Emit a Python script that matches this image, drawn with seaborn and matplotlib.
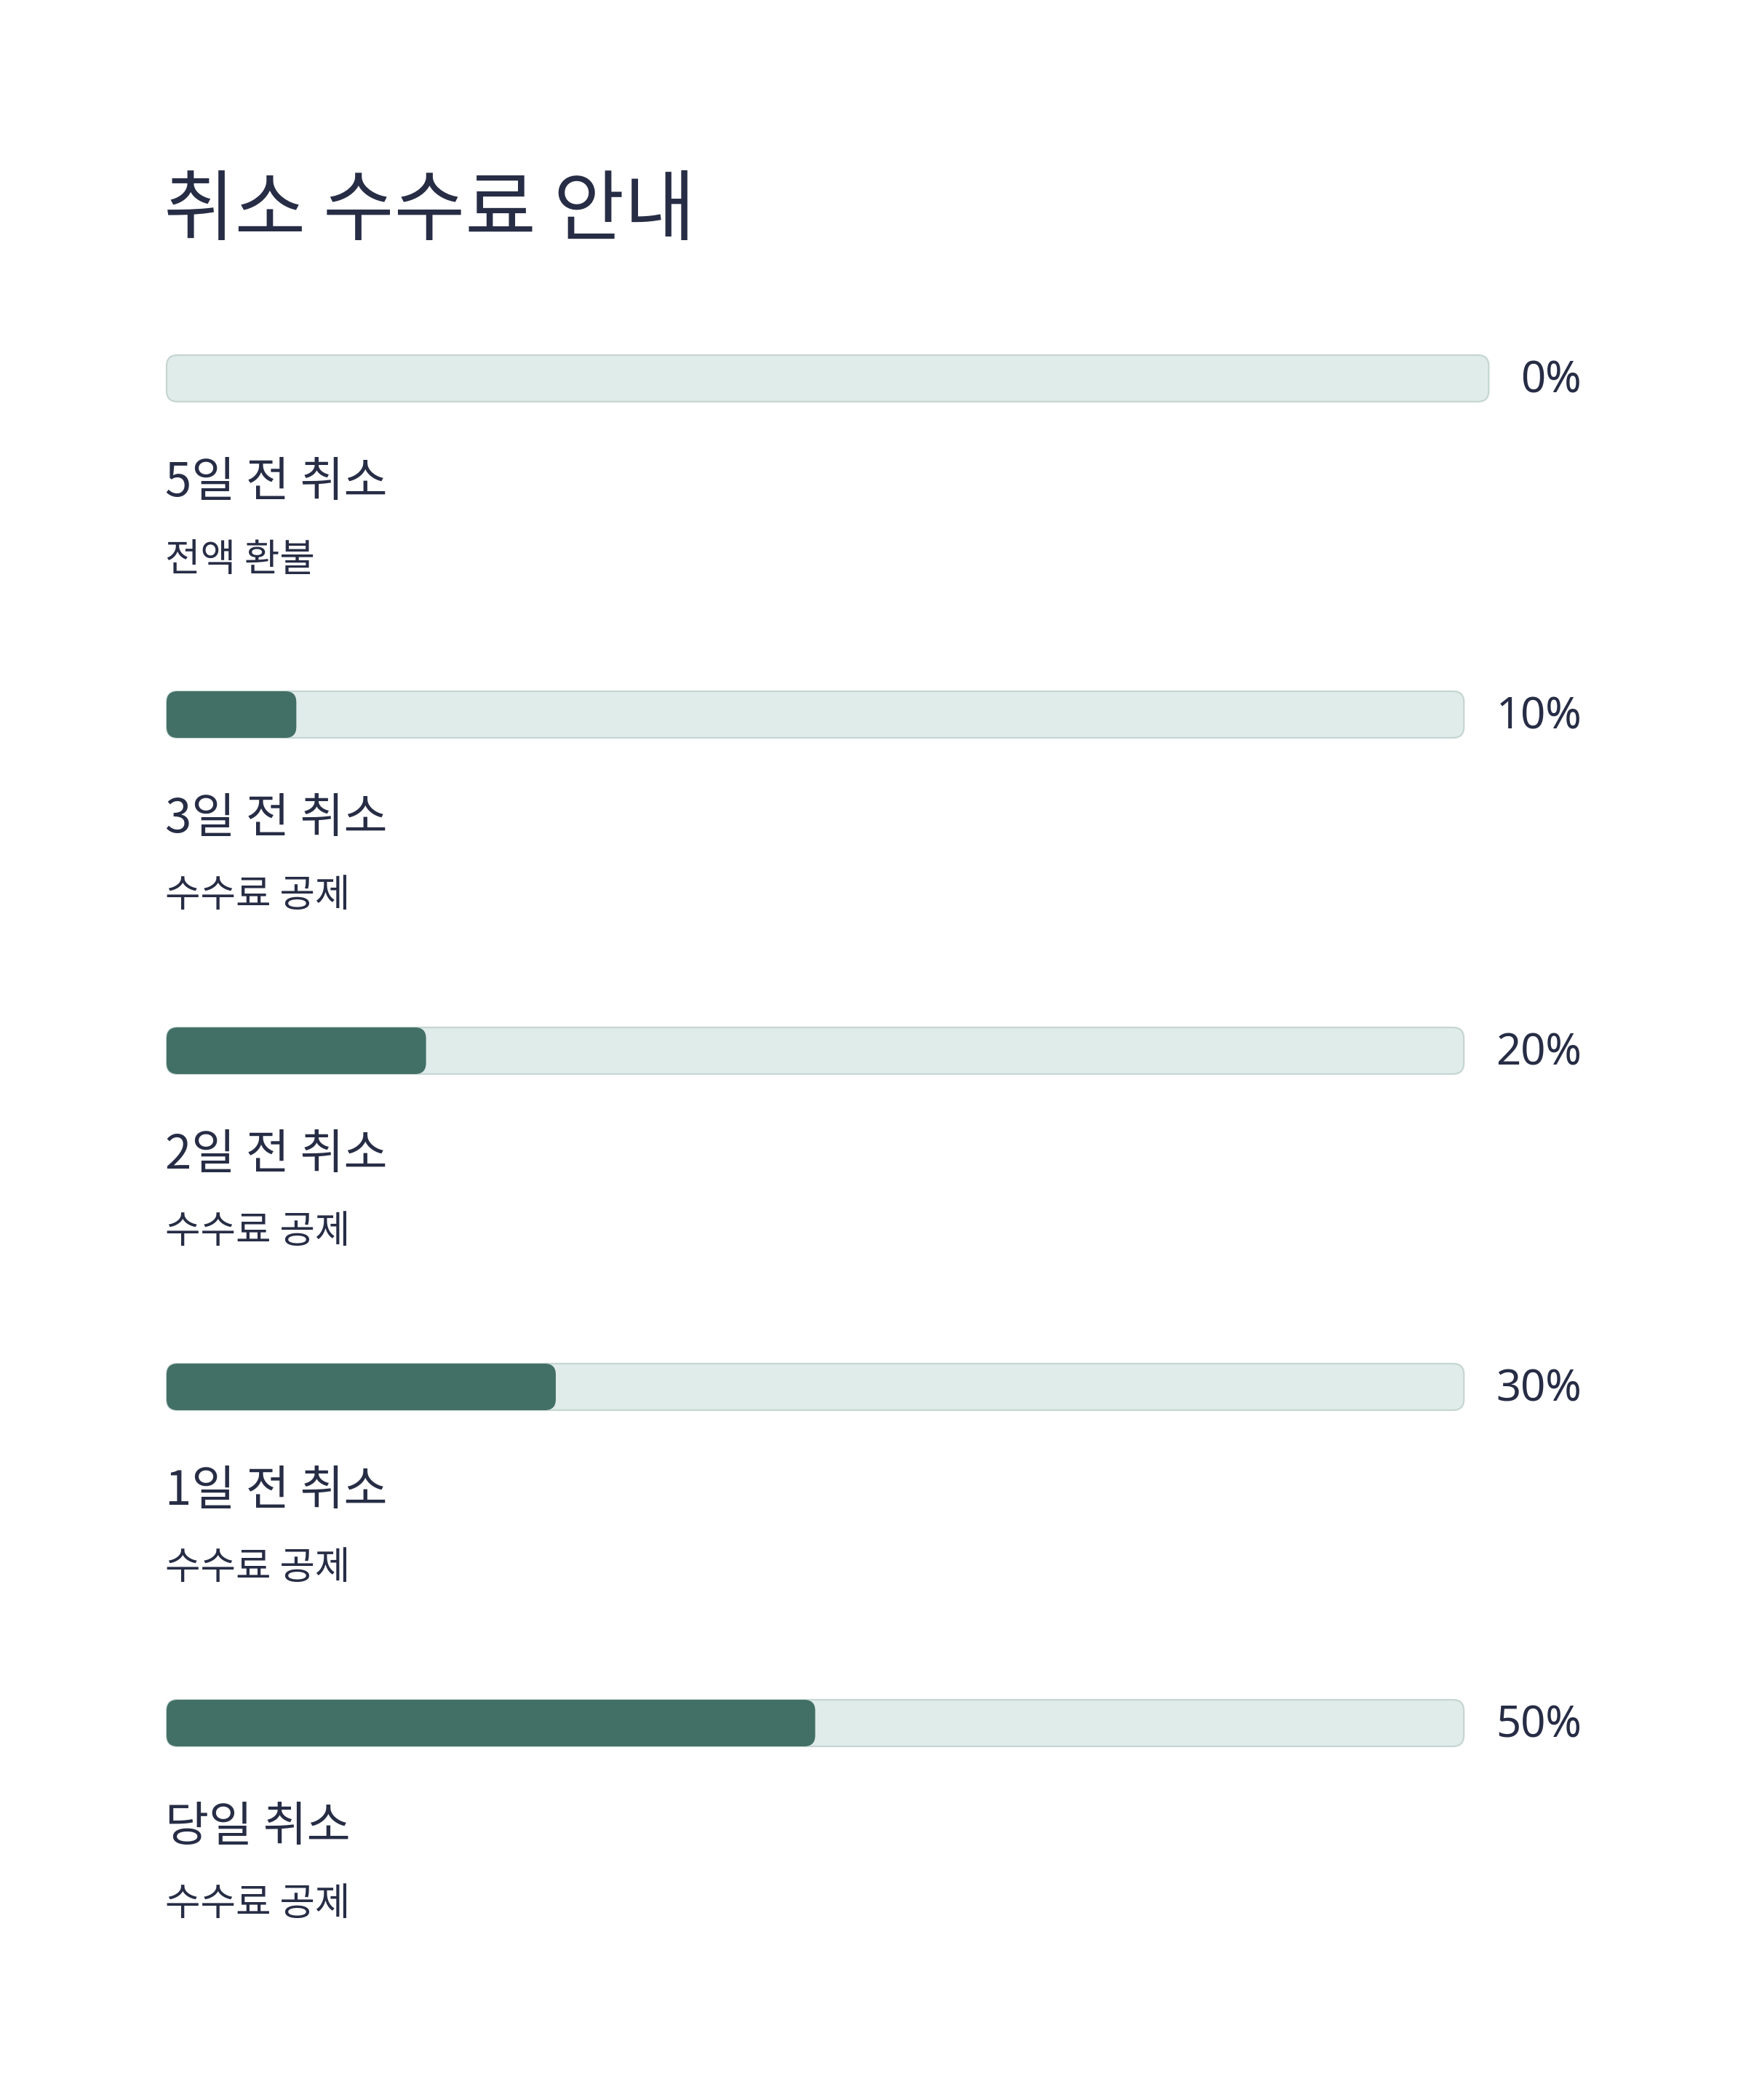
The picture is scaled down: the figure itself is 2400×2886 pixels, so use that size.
import matplotlib
matplotlib.use("Agg")
import matplotlib.pyplot as plt
import seaborn as sns
import pandas as pd
from matplotlib.patches import FancyBboxPatch

sns.set_theme(style="white")
plt.rcParams['font.family'] = ['Noto Sans CJK KR', 'DejaVu Sans']

# ---- data ----
title = "취소 수수료 안내"
categories = ["5일 전 취소", "3일 전 취소", "2일 전 취소", "1일 전 취소", "당일 취소"]
subtitles = ["전액 환불", "수수료 공제", "수수료 공제", "수수료 공제", "수수료 공제"]
fees = [0, 10, 20, 30, 50]
pct_labels = ["0%", "10%", "20%", "30%", "50%"]

# ---- style ----
TEXT = "#272d45"
FILL = "#437066"
TRACK = "#e0ece9"
TRACK_EDGE = "#c6d6d2"

W, H, DPI = 2400, 2886, 200
fig = plt.figure(figsize=(W / DPI, H / DPI), dpi=DPI)
fig.patch.set_facecolor("white")

def fx(px):
    return px / W

def fy(py):
    return 1 - py / H

LEFT = 229
PCT_RIGHT = 2174
BAR_H = 64
ROW0 = 520
ROW_STEP = 462
GAP = 44
RADIUS = 15

fig.text(fx(LEFT - 4), fy(292), title, fontsize=38.2, color=TEXT,
         ha="left", va="center")

renderer = fig.canvas.get_renderer()

for i, (cat, sub, val, lab) in enumerate(zip(categories, subtitles, fees, pct_labels)):
    cy = ROW0 + i * ROW_STEP
    t = fig.text(fx(PCT_RIGHT), fy(cy + 4), lab, fontsize=21.5, color=TEXT,
                 ha="right", va="center", family=["Noto Sans", "DejaVu Sans"])
    bb = t.get_window_extent(renderer)
    track_right = bb.x0 - GAP
    width_px = track_right - LEFT

    ax = fig.add_axes([fx(LEFT), fy(cy + BAR_H / 2), fx(width_px), BAR_H / H])
    df = pd.DataFrame({"cat": [cat], "fee": [val]})
    sns.barplot(data=df, x="fee", y="cat", orient="h", ax=ax, color=FILL,
                width=1.0, saturation=1)
    ax.set_xlim(0, 100)
    ax.set_ylim(0.5, -0.5)
    ax.axis("off")

    xu = 100 / width_px
    aspect = (1.0 / BAR_H) / xu
    track = FancyBboxPatch((0, -0.5), 100, 1.0,
                           boxstyle=f"round,pad=0,rounding_size={RADIUS * xu}",
                           mutation_aspect=aspect, facecolor=TRACK,
                           edgecolor=TRACK_EDGE, linewidth=0.8, zorder=1,
                           clip_on=False)
    ax.add_patch(track)
    for p in list(ax.patches):
        if p is track:
            continue
        x0, y0 = p.get_x(), p.get_y()
        w, h = p.get_width(), p.get_height()
        p.remove()
        if w <= 0:
            continue
        rb = FancyBboxPatch((x0, y0), w, h,
                            boxstyle=f"round,pad=0,rounding_size={RADIUS * xu}",
                            mutation_aspect=aspect, facecolor=FILL,
                            edgecolor="none", zorder=3, clip_on=False)
        ax.add_patch(rb)

    fig.text(fx(LEFT - 2), fy(cy + 144), cat, fontsize=23.5, color=TEXT,
             ha="left", va="center")
    fig.text(fx(LEFT - 2), fy(cy + 249), sub, fontsize=19, color=TEXT,
             ha="left", va="center")

fig.savefig("out.png", dpi=DPI, facecolor="white")
